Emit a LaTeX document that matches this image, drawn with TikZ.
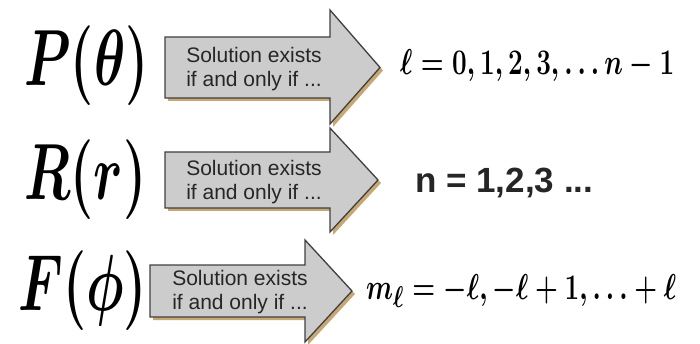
\documentclass[tikz,border=0pt]{standalone}
\usepackage{fontspec}
\newfontfamily\arialfont{Liberation Sans}
\definecolor{arrowfill}{HTML}{CCCCCC}
\definecolor{arrowline}{HTML}{404040}
\definecolor{shadowtan}{HTML}{C8A872}
\tikzset{
  arrowbody/.style={fill=arrowfill, draw=arrowline, line width=1.3pt, line join=miter},
  arrowshadow/.style={fill=shadowtan, draw=none},
  boxtext/.style={font=\arialfont\fontsize{21}{24}\selectfont, align=left, inner sep=0pt, text=black!85},
  bigfn/.style={font=\Huge\boldmath, inner sep=0pt, anchor=west, xscale=2.12, yscale=3.2, transform shape},
  result/.style={font=\Huge\boldmath, inner sep=0pt, anchor=west, xscale=1.05, yscale=1.447, transform shape},
}
\newcommand{\fatarrow}[7]{%
  \fill[arrowshadow,shift={(3,3)}] (#1,#2) -- (#4,#2) -- (#4,#5) -- (#7,{(#2+#3)/2}) -- (#4,#6) -- (#4,#3) -- (#1,#3) -- cycle;
  \draw[arrowbody] (#1,#2) -- (#4,#2) -- (#4,#5) -- (#7,{(#2+#3)/2}) -- (#4,#6) -- (#4,#3) -- (#1,#3) -- cycle;
}
\begin{document}
\begin{tikzpicture}[x=1pt,y=-1pt]
\useasboundingbox (0,0) rectangle (700,344);
% arrows
\fatarrow{165}{37}{98}{330}{10}{124}{380}
\fatarrow{165}{152}{208}{330}{128}{232}{378}
\fatarrow{150}{265}{317}{305}{240}{342}{352}
% box texts
\node[boxtext] (t1) at (254,69) {Solution exists\\if and only if ...};
\node[boxtext] (t2) at (254,182) {Solution exists\\if and only if ...};
\node[boxtext] (t3) at (240,292) {Solution exists\\if and only if ...};
% functions
\node[bigfn] (p) at (24,66) {$P(\theta)$};
\node[bigfn] (r) at (24,180) {$R(r)$};
\node[bigfn] (f) at (18,291) {$F(\phi)$};
% results
\node[result] (l) at (400,66) {$\ell=0,1,2,3,\ldots n-1$};
\node[font=\arialfont\bfseries\fontsize{35}{38}\selectfont, inner sep=0pt, anchor=west, text=black!85] (n) at (415,183) {n = 1,2,3 ...};
\node[result] (m) at (366,291) {$m_\ell=-\ell,-\ell+1,\ldots+\ell$};
\end{tikzpicture}
\end{document}
